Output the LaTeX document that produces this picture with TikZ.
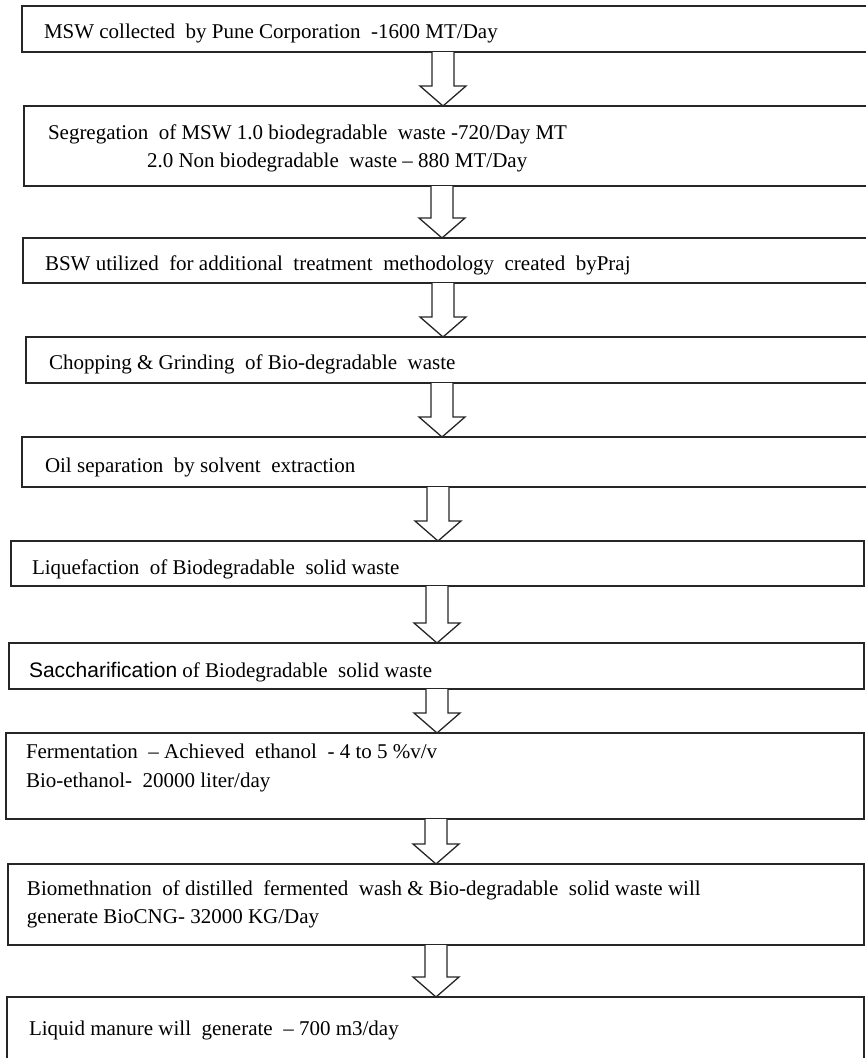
\documentclass[tikz,border=0pt]{standalone}
\usepackage{fontspec}
\setmainfont{Liberation Serif}
\setsansfont{Liberation Sans}
\usetikzlibrary{calc}
\newcommand\boxfont{\fontsize{21}{25}\selectfont}
\newcommand\barr[3]{%
  \draw[barrow] let \p1=(#1.south), \p2=(#2.north) in
    ({#3pt-11pt},\y1) -- ({#3pt-11pt},{\y2+20pt}) -- ({#3pt-23pt},{\y2+20pt})
    -- ({#3pt},\y2) -- ({#3pt+23pt},{\y2+20pt}) -- ({#3pt+11pt},{\y2+20pt})
    -- ({#3pt+11pt},\y1);}
\begin{document}
\begin{tikzpicture}[x=1pt,y=-1pt,
  box/.style={draw=black!85, line width=1.6pt, inner sep=0pt, outer sep=0pt, anchor=north west},
  thickbox/.style={box, line width=2.8pt},
  txt/.style={anchor=base west, inner sep=0pt, outer sep=0pt, font=\boxfont},
  barrow/.style={draw=black!85, line width=1.3pt, fill=white, line join=miter}]
\useasboundingbox (0,0) rectangle (866,1058);
\clip (0,0) rectangle (866,1058);
\fill[white] (0,0) rectangle (866,1058);
% boxes
\node[box, line width=2.2pt, minimum width=848pt, minimum height=46pt] (b1) at (22,6) {};
\node[box, minimum width=846pt, minimum height=80pt] (b2) at (24,106) {};
\node[box, minimum width=847pt, minimum height=45pt] (b3) at (23,238) {};
\node[box, minimum width=844pt, minimum height=46pt] (b4) at (26,337) {};
\node[box, minimum width=848pt, minimum height=50pt] (b5) at (22,437) {};
\node[box, line width=2pt, minimum width=853pt, minimum height=45pt] (b6) at (11,541) {};
\node[box, line width=2pt, minimum width=855pt, minimum height=46pt] (b7) at (9,643) {};
\node[thickbox, minimum width=858pt, minimum height=86pt] (b8) at (6,733) {};
\node[box, line width=2pt, minimum width=856pt, minimum height=81pt] (b9) at (8,864) {};
\node[box, line width=2pt, minimum width=857pt, minimum height=70pt] (b10) at (7,997) {};
% texts
\node[txt] (t1) at (44,38) {MSW collected\ \ by Pune Corporation\ \ -1600 MT/Day};
\node[txt] (t2a) at (48,139) {Segregation\ \ of MSW 1.0 biodegradable\ \ waste -720/Day MT};
\node[txt] (t2b) at (147,167) {2.0 Non biodegradable\ \ waste – 880 MT/Day};
\node[txt] (t3) at (45,270) {BSW utilized\ \ for additional\ \ treatment\ \ methodology\ \ created\ \ byPraj};
\node[txt] (t4) at (49,369) {Chopping \& Grinding\ \ of Bio-degradable\ \ waste};
\node[txt] (t5) at (45,472) {Oil separation\ \ by solvent\ \ extraction};
\node[txt] (t6) at (32,574) {Liquefaction\ \ of Biodegradable\ \ solid waste};
\node[txt] (t7) at (29,677) {{\sffamily Saccharification} of Biodegradable\ \ solid waste};
\node[txt] (t8a) at (26,758) {Fermentation\ \ – Achieved\ \ ethanol\ \ - 4 to 5 \%v/v};
\node[txt] (t8b) at (26,787) {Bio-ethanol-\ \ 20000 liter/day};
\node[txt] (t9a) at (27,895) {Biomethnation\ \ of distilled\ \ fermented\ \ wash \& Bio-degradable\ \ solid waste will};
\node[txt] (t9b) at (27,923) {generate BioCNG- 32000 KG/Day};
\node[txt] (t10) at (29,1035) {Liquid manure will\ \ generate\ \ – 700 m3/day};
% block arrows
\barr{b1}{b2}{443}
\barr{b2}{b3}{442}
\barr{b3}{b4}{443}
\barr{b4}{b5}{442}
\barr{b5}{b6}{438}
\barr{b6}{b7}{437}
\barr{b7}{b8}{437}
\barr{b8}{b9}{436}
\barr{b9}{b10}{436}
\end{tikzpicture}
\end{document}
